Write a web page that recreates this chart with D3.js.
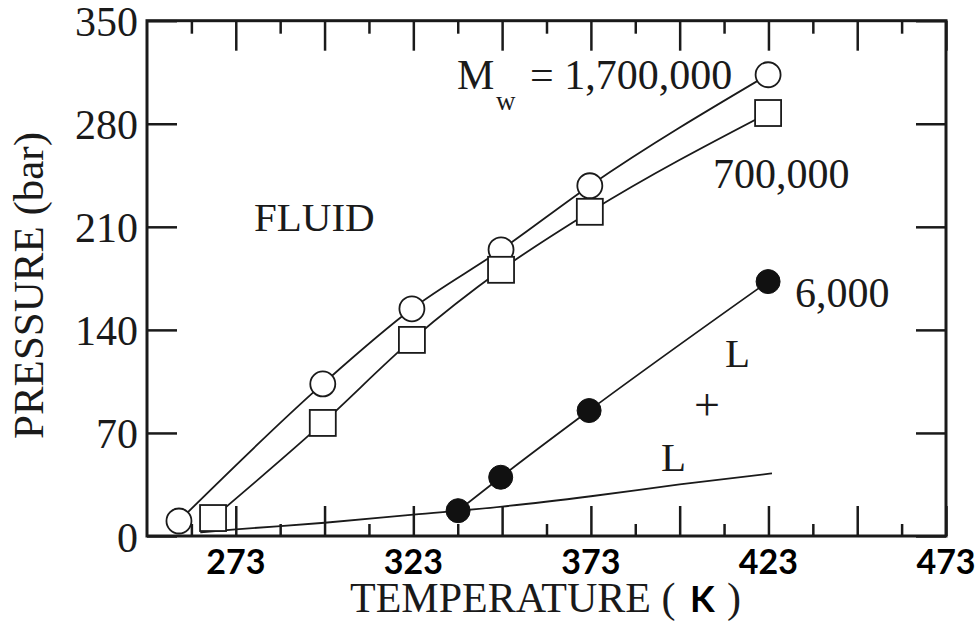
<!DOCTYPE html>
<html>
<head>
<meta charset="utf-8">
<script src="https://cdn.jsdelivr.net/npm/d3@7"></script>
<style>
  html, body { margin: 0; padding: 0; background: #fff; }
  svg { display: block; }
  .serif { font-family: "Liberation Serif", "Times New Roman", serif; fill: #1a1a1a; }
  .bold-sans { font-family: Lato, "Open Sans", sans-serif; font-weight: 700; fill: #000; }
</style>
</head>
<body>
<svg id="chart" width="980" height="621"></svg>
<script>
// Cloud-point pressures of polymer solutions vs temperature, by molecular weight
const mw1700kTemp  = [257, 297.5, 322.6, 347.7, 372.7, 422.9];
const mw1700kPres  = [10.2, 103.3, 154.3, 194.4, 237.9, 313.3];

const mw700kTemp   = [266.6, 297.5, 322.6, 347.7, 372.7, 422.9];
const mw700kPres   = [12.2, 76.8, 133.2, 180.8, 220.2, 287.3];

const mw6kTemp     = [335.6, 347.6, 372.5, 422.9];
const mw6kPres     = [17.2, 39.9, 85.2, 172.8];

// Boundary separating the L and L+L regions
const boundaryTemp = [263, 273, 298, 323, 348, 373, 398, 424];
const boundaryPres = [2.5, 4.5, 9, 14.5, 20, 27, 35, 42.5];

const xTickLabels  = [273, 323, 373, 423, 473];
const yTickLabels  = [0, 70, 140, 210, 280, 350];
const xMajorTicks  = d3.range(273, 474, 25);
const xMinorTicks  = d3.range(260.5, 474, 25);

const svg = d3.select("#chart");
const plotL = 147, plotR = 946, plotT = 20.7, plotB = 536;

const x = d3.scaleLinear().domain([248, 473]).range([plotL, plotR]);
const y = d3.scaleLinear().domain([0, 350]).range([plotB, plotT]);

const zip = (t, p) => t.map((v, i) => ({ t: v, p: p[i] }));
const s1700 = zip(mw1700kTemp, mw1700kPres);
const s700  = zip(mw700kTemp, mw700kPres);
const s6    = zip(mw6kTemp, mw6kPres);
const bnd   = zip(boundaryTemp, boundaryPres);

// Inward-facing ticks on all four sides
function styleTicks(g, w) {
  g.select(".domain").remove();
  g.selectAll("text").remove();
  g.selectAll("line").attr("stroke", "#1a1a1a").attr("stroke-width", w);
}
svg.append("g").attr("transform", `translate(0,${plotB})`)
  .call(d3.axisBottom(x).tickValues(xMajorTicks).tickSize(-30)).call(g => styleTicks(g, 2.5));
svg.append("g").attr("transform", `translate(0,${plotB})`)
  .call(d3.axisBottom(x).tickValues(xMinorTicks).tickSize(-12)).call(g => styleTicks(g, 2.5));
svg.append("g").attr("transform", `translate(0,${plotT})`)
  .call(d3.axisTop(x).tickValues(xMajorTicks).tickSize(-30)).call(g => styleTicks(g, 2.5));
svg.append("g").attr("transform", `translate(0,${plotT})`)
  .call(d3.axisTop(x).tickValues(xMinorTicks).tickSize(-13)).call(g => styleTicks(g, 2.5));
svg.append("g").attr("transform", `translate(${plotL},0)`)
  .call(d3.axisLeft(y).tickValues(yTickLabels).tickSize(-30)).call(g => styleTicks(g, 2.5));
svg.append("g").attr("transform", `translate(${plotR},0)`)
  .call(d3.axisRight(y).tickValues(yTickLabels).tickSize(-30)).call(g => styleTicks(g, 2.5));

// Frame
svg.append("rect")
  .attr("x", plotL).attr("y", plotT)
  .attr("width", plotR - plotL).attr("height", plotB - plotT)
  .attr("fill", "none").attr("stroke", "#1a1a1a").attr("stroke-width", 3);

// Y tick labels
svg.append("g").selectAll("text").data(yTickLabels).join("text")
  .attr("class", "serif")
  .attr("x", plotL - 9).attr("y", d => y(d) + 15.5)
  .attr("text-anchor", "end").attr("font-size", 42)
  .text(d => d);

// X tick labels
svg.append("g").selectAll("text").data(xTickLabels).join("text")
  .attr("class", "bold-sans")
  .attr("x", d => x(d)).attr("y", 574)
  .attr("text-anchor", "middle").attr("font-size", 34)
  .text(d => d);

// Axis titles
svg.append("text").attr("class", "serif")
  .attr("transform", "translate(43,285.5) rotate(-90)")
  .attr("text-anchor", "middle").attr("font-size", 43)
  .text("PRESSURE (bar)");
svg.append("text").attr("class", "serif").attr("x", 350).attr("y", 612)
  .attr("font-size", 42).text("TEMPERATURE (");
svg.append("text").attr("class", "bold-sans").attr("x", 690).attr("y", 612)
  .attr("font-size", 36).text("K");
svg.append("text").attr("class", "serif").attr("x", 727).attr("y", 612)
  .attr("font-size", 42).text(")");

// Curves
const line = d3.line().x(d => x(d.t)).y(d => y(d.p)).curve(d3.curveMonotoneX);
const curveG = svg.append("g").attr("fill", "none").attr("stroke", "#1a1a1a").attr("stroke-width", 1.8);
[bnd, s1700, s700, s6].forEach(s => curveG.append("path").attr("d", line(s)));

// Markers
svg.append("g").selectAll("circle").data(s1700).join("circle")
  .attr("cx", d => x(d.t)).attr("cy", d => y(d.p)).attr("r", 12.5)
  .attr("fill", "#fff").attr("stroke", "#1a1a1a").attr("stroke-width", 1.8);
const sq = 26;
svg.append("g").selectAll("rect").data(s700).join("rect")
  .attr("x", d => x(d.t) - sq / 2).attr("y", d => y(d.p) - sq / 2)
  .attr("width", sq).attr("height", sq)
  .attr("fill", "#fff").attr("stroke", "#1a1a1a").attr("stroke-width", 1.8);
svg.append("g").selectAll("circle").data(s6).join("circle")
  .attr("cx", d => x(d.t)).attr("cy", d => y(d.p)).attr("r", 12)
  .attr("fill", "#111").attr("stroke", "#111").attr("stroke-width", 1);

// Annotations
const ann = svg.append("g").attr("class", "serif");
ann.append("text").attr("x", 457).attr("y", 89.3).attr("font-size", 42).text("M");
ann.append("text").attr("x", 496).attr("y", 110).attr("font-size", 27).text("w");
ann.append("text").attr("x", 530).attr("y", 89.3).attr("font-size", 42).text("= 1,700,000");
ann.append("text").attr("x", 713).attr("y", 188.3).attr("font-size", 42).text("700,000");
ann.append("text").attr("x", 795).attr("y", 306.7).attr("font-size", 42).text("6,000");
ann.append("text").attr("x", 254).attr("y", 230.7).attr("font-size", 41).text("FLUID");
ann.append("text").attr("x", 725).attr("y", 366.7).attr("font-size", 41).text("L");
ann.append("text").attr("x", 694).attr("y", 420).attr("font-size", 46).text("+");
ann.append("text").attr("x", 661).attr("y", 470.7).attr("font-size", 41).text("L");
</script>
</body>
</html>
